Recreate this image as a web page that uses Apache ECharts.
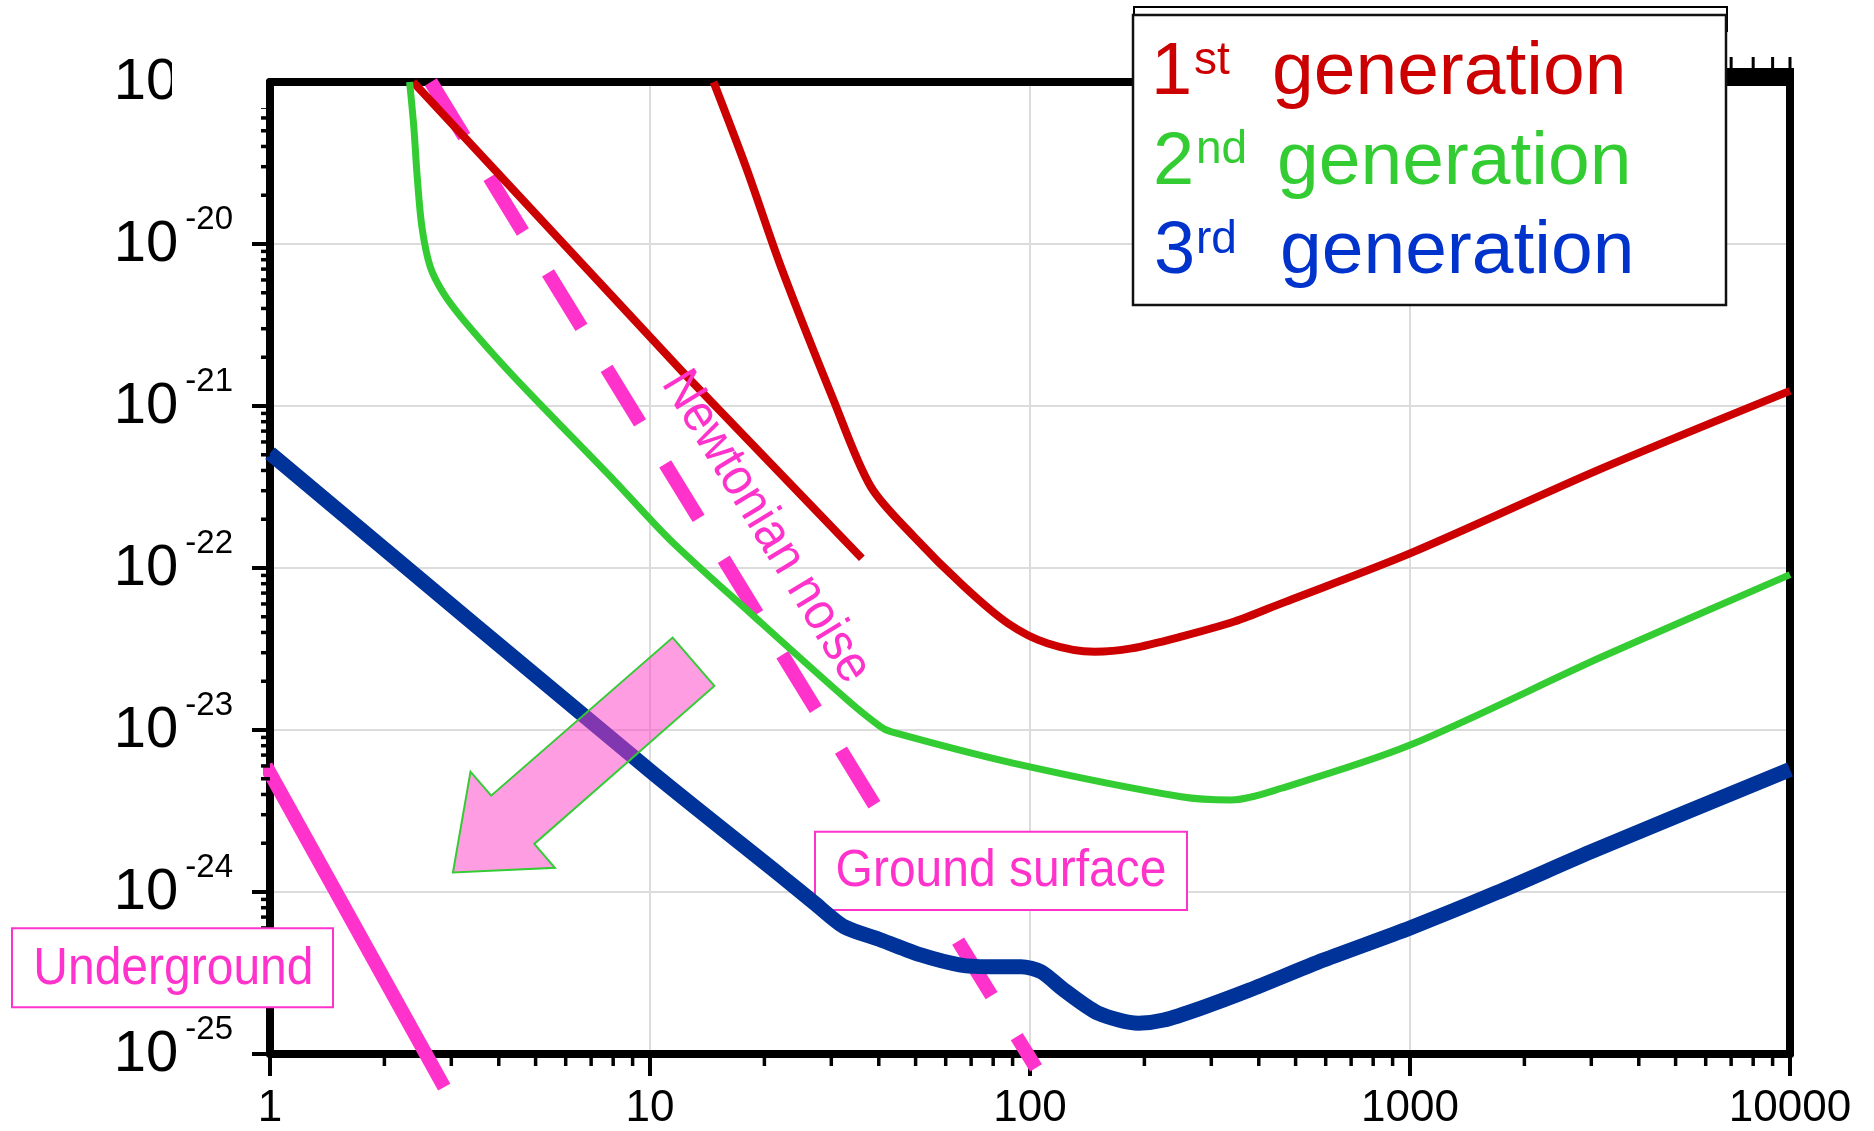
<!DOCTYPE html>
<html>
<head>
<meta charset="utf-8">
<title>Detector sensitivity by generation</title>
<script src="https://cdn.jsdelivr.net/npm/echarts@6/dist/echarts.min.js"></script>
<style>
  html, body { margin: 0; padding: 0; background: #ffffff; }
  #chart { width: 1874px; height: 1131px; }
</style>
</head>
<body>
<div id="chart"></div>
<script>
// ---- Axis ranges and tick labels ----
const freqTicks = [1, 10, 100, 1000, 10000];          // Hz
const strainExponents = [-25, -24, -23, -22, -21, -20, -19];
const topEdgeTicks = [7000, 8000, 9000, 10000];       // Hz, short ticks on the top edge

// ---- 1st generation: main sensitivity curve ----
const gen1Freq = [14.7, 18.0, 22.1, 30.4, 38.1, 49.5, 67.1, 87.4, 111, 148, 185, 250, 345, 459, 1000, 3200, 10000];
const gen1Strain = [1e-19, 2.87e-20, 7.25e-21, 1.09e-21, 3.18e-22, 1.56e-22, 7.67e-23, 4.56e-23, 3.43e-23, 3.04e-23, 3.19e-23, 3.77e-23, 4.67e-23, 6.05e-23, 1.23e-22, 4.12e-22, 1.24e-21];

// ---- 1st generation: low-frequency seismic branch ----
const gen1LowFreq = [2.38, 12.26, 36.1];
const gen1LowStrain = [1e-19, 1.60e-21, 1.15e-22];

// ---- 2nd generation ----
const gen2Freq = [2.33, 2.39, 2.44, 2.51, 2.64, 2.86, 3.23, 4.38, 8.03, 11.3, 18.4, 33.1, 40.4, 43.0, 90.2, 250, 339, 459, 1000, 3200, 10000];
const gen2Strain = [1e-19, 5.3e-20, 2.6e-20, 1.28e-20, 7.25e-21, 4.97e-21, 3.40e-21, 1.52e-21, 3.49e-22, 1.49e-22, 5.25e-23, 1.53e-23, 1.05e-23, 9.77e-24, 6.25e-24, 3.87e-24, 3.70e-24, 4.37e-24, 8.07e-24, 2.83e-23, 9.1e-23];

// ---- 3rd generation ----
const gen3Freq = [1, 10, 22.1, 27.0, 32.4, 40.5, 51.6, 65.8, 77.5, 94.7, 107, 123, 151, 193, 225, 282, 378, 592, 1000, 1690, 3075, 10000];
const gen3Strain = [5.1e-22, 5.6e-24, 1.26e-24, 8.6e-25, 6.11e-25, 5.06e-25, 4.09e-25, 3.54e-25, 3.46e-25, 3.46e-25, 3.22e-25, 2.48e-25, 1.79e-25, 1.55e-25, 1.62e-25, 1.92e-25, 2.48e-25, 3.8e-25, 6.0e-25, 9.9e-25, 1.82e-24, 5.7e-24];

// ---- Newtonian noise: ground surface (dashed) and underground ----
const nnSurfaceFreq = [2.65, 103.7];
const nnSurfaceStrain = [1e-19, 8.2e-26];
const nnUndergroundFreq = [0.976, 2.874];
const nnUndergroundStrain = [6.0e-24, 6.25e-26];

// ---- Arrow annotation outline, in (frequency, strain) ----
const arrowFreq = [3.03, 3.37, 3.82, 11.47, 14.77, 4.96, 5.62];
const arrowStrain = [1.32e-24, 5.53e-24, 3.93e-24, 3.72e-23, 1.87e-23, 1.98e-24, 1.41e-24];

const FONT = '"Liberation Sans", Arial, Helvetica, sans-serif';
const RED = '#cc0000', GREEN = '#33cc33', BLUE = '#003399', PINK = '#ff33cc';

// Both axes run in decades (log10 of the physical value), so the tiny
// strain values never hit floating-point rounding inside the scale.
const lg = Math.log10;
const X_MIN = lg(freqTicks[0]), X_MAX = lg(freqTicks[freqTicks.length - 1]);
const Y_MIN = strainExponents[0], Y_MAX = strainExponents[strainExponents.length - 1];

const toPoints = (fs, hs) => fs.map((f, i) => [lg(f), lg(hs[i])]);

// minor tick positions 2..9 x 10^k inside each decade
const minorX = [];
for (let e = X_MIN; e < X_MAX; e++) for (let k = 2; k <= 9; k++) minorX.push(e + lg(k));
const minorY = [];
for (let e = Y_MIN; e < Y_MAX; e++) for (let k = 2; k <= 9; k++) minorY.push(e + lg(k));

const chart = echarts.init(document.getElementById('chart'), null, { renderer: 'canvas' });

const curve = (name, data, color, width, extra) => Object.assign({
  name, type: 'line', data, symbol: 'none', smooth: 0.3, z: 2,
  lineStyle: { color, width, cap: 'butt', join: 'round' },
  silent: true
}, extra || {});

const textStyle = (text, size, fill, align) => ({
  text, fontFamily: FONT, fontSize: size, fill,
  align: align, verticalAlign: 'middle', textAlign: align, textVerticalAlign: 'middle'
});

// plain frame axis (top / right edges of the plot box)
const frameAxis = (position) => ({
  type: 'value', position, min: position === 'top' ? X_MIN : Y_MIN,
  max: position === 'top' ? X_MAX : Y_MAX, interval: 1,
  axisLine: { show: true, onZero: false, lineStyle: { color: '#000', width: 8 } },
  axisTick: { show: false }, axisLabel: { show: false }, splitLine: { show: false }
});

chart.setOption({
  animation: false,
  backgroundColor: '#ffffff',
  grid: { left: 270, top: 82, width: 1520, height: 972, show: false },
  xAxis: [{
    type: 'value', position: 'bottom', min: X_MIN, max: X_MAX, interval: 1,
    axisLine: { show: true, onZero: false, lineStyle: { color: '#000', width: 8 } },
    axisTick: { show: true, inside: false, length: 22, lineStyle: { color: '#000', width: 4 } },
    splitLine: { show: true, lineStyle: { color: '#dcdcdc', width: 2 } },
    axisLabel: {
      margin: 33, color: '#000', fontFamily: FONT, fontSize: 44, lineHeight: 44,
      formatter: v => String(Math.round(Math.pow(10, v)))
    }
  }, frameAxis('top')],
  yAxis: [{
    type: 'value', position: 'left', min: Y_MIN, max: Y_MAX, interval: 1,
    axisLine: { show: true, onZero: false, lineStyle: { color: '#000', width: 8 } },
    axisTick: { show: true, inside: false, length: 18, lineStyle: { color: '#000', width: 4 } },
    splitLine: { show: true, lineStyle: { color: '#dcdcdc', width: 2 } },
    axisLabel: {
      margin: 37, color: '#000', fontFamily: FONT, padding: [0, 0, 11, 0],
      formatter: v => '{b|10}{s|' + Math.round(v) + '}',
      rich: {
        b: { fontFamily: FONT, fontSize: 58, lineHeight: 58, verticalAlign: 'bottom', color: '#000' },
        s: { fontFamily: FONT, fontSize: 33, lineHeight: 71, verticalAlign: 'top', padding: [0, 0, 0, 7], color: '#000' }
      }
    }
  }, frameAxis('right')],
  series: [
    {
      name: 'Newtonian noise (ground surface)', type: 'line', symbol: 'none', clip: false, silent: true, z: 1,
      data: toPoints(nnSurfaceFreq, nnSurfaceStrain),
      lineStyle: { color: PINK, width: 14, type: [64, 48], cap: 'butt' }
    },
    curve('1st generation', toPoints(gen1Freq, gen1Strain), RED, 8),
    curve('1st generation (low frequency)', toPoints(gen1LowFreq, gen1LowStrain), RED, 8, { smooth: false }),
    curve('2nd generation', toPoints(gen2Freq, gen2Strain), GREEN, 7),
    curve('3rd generation', toPoints(gen3Freq, gen3Strain), BLUE, 15, { smooth: 0.25 }),
    {
      name: 'Newtonian noise (underground)', type: 'line', symbol: 'none', clip: false, silent: true, z: 2,
      data: toPoints(nnUndergroundFreq, nnUndergroundStrain),
      lineStyle: { color: PINK, width: 14, cap: 'butt' }
    },
    {
      name: 'arrow', type: 'custom', silent: true, clip: false, z: 3,
      data: [[lg(arrowFreq[0]), lg(arrowStrain[0])]],
      renderItem: (params, api) => ({
        type: 'polygon',
        shape: { points: arrowFreq.map((f, i) => api.coord([lg(f), lg(arrowStrain[i])])) },
        style: { fill: 'rgba(255,60,200,0.5)', stroke: GREEN, lineWidth: 2 }
      })
    },
    {
      name: 'x minor ticks', type: 'custom', silent: true, clip: false, z: 5,
      data: minorX.map(v => [v, Y_MIN]),
      renderItem: (params, api) => {
        const p = api.coord([api.value(0), api.value(1)]);
        return { type: 'line', shape: { x1: p[0], y1: p[1], x2: p[0], y2: p[1] + 12 },
                 style: { stroke: '#000', lineWidth: 3.5 } };
      }
    },
    {
      name: 'y minor ticks', type: 'custom', silent: true, clip: false, z: 5,
      data: minorY.map(v => [X_MIN, v]),
      renderItem: (params, api) => {
        const p = api.coord([api.value(0), api.value(1)]);
        return { type: 'line', shape: { x1: p[0] - 9, y1: p[1], x2: p[0], y2: p[1] },
                 style: { stroke: '#000', lineWidth: 3.5 } };
      }
    },
    {
      // short ticks and heavier edge on the top border beside the legend panel
      name: 'top edge ticks', type: 'custom', silent: true, clip: false, z: 6,
      data: topEdgeTicks.map(f => [lg(f), Y_MAX]),
      renderItem: (params, api) => {
        const p = api.coord([api.value(0), api.value(1)]);
        const children = [{ type: 'line', shape: { x1: p[0], y1: p[1] - 14, x2: p[0], y2: p[1] - 25 },
                            style: { stroke: '#000', lineWidth: 3 } }];
        if (params.dataIndex === 0) {
          const end = api.coord([X_MAX, Y_MAX]);
          children.push({ type: 'rect', shape: { x: p[0] - 30, y: p[1] - 14, width: end[0] - p[0] + 34, height: 14 },
                          style: { fill: '#000' } });
        }
        return { type: 'group', children };
      }
    }
  ],
  graphic: [
    // mask over the top strain label
    { type: 'rect', z: 100, shape: { x: 172, y: 36, width: 94, height: 72 }, style: { fill: '#fff' } },

    // legend panel
    { type: 'rect', z: 100, shape: { x: 1134, y: 7, width: 593, height: 24 },
      style: { fill: '#fff', stroke: '#000', lineWidth: 2 } },
    { type: 'rect', z: 101, shape: { x: 1133, y: 15, width: 593, height: 290 },
      style: { fill: '#fff', stroke: '#111', lineWidth: 2.5 } },
    { type: 'text', z: 102, x: 1151, y: 73.7, style: textStyle('1', 74, RED, 'left') },
    { type: 'text', z: 102, x: 1194, y: 61.4, style: textStyle('st', 46, RED, 'left') },
    { type: 'text', z: 102, x: 1272, y: 73.7, style: textStyle('generation', 75, RED, 'left') },
    { type: 'text', z: 102, x: 1153, y: 163.7, style: textStyle('2', 74, GREEN, 'left') },
    { type: 'text', z: 102, x: 1196, y: 150.8, style: textStyle('nd', 46, GREEN, 'left') },
    { type: 'text', z: 102, x: 1277, y: 163.7, style: textStyle('generation', 75, GREEN, 'left') },
    { type: 'text', z: 102, x: 1154, y: 252.7, style: textStyle('3', 74, '#0033cc', 'left') },
    { type: 'text', z: 102, x: 1196, y: 240.1, style: textStyle('rd', 46, '#0033cc', 'left') },
    { type: 'text', z: 102, x: 1280, y: 252.7, style: textStyle('generation', 75, '#0033cc', 'left') },

    // Newtonian noise caption along the dashed line
    { type: 'text', z: 10, x: 766, y: 527, rotation: -58.6 * Math.PI / 180, scaleY: 1.1,
      style: textStyle('Newtonian noise', 48, PINK, 'center') },

    // Ground surface box: above the dashed line, under the curves
    { type: 'rect', z: 1.5, shape: { x: 815, y: 831.7, width: 372, height: 78.3 },
      style: { fill: '#fff', stroke: PINK, lineWidth: 2 } },
    { type: 'text', z: 1.5, x: 1001, y: 872, scaleY: 1.08, style: textStyle('Ground surface', 48, PINK, 'center') },

    // Underground box (over the axis)
    { type: 'rect', z: 50, shape: { x: 12, y: 928.3, width: 321, height: 79 },
      style: { fill: '#fff', stroke: PINK, lineWidth: 2 } },
    { type: 'text', z: 51, x: 173.4, y: 970, scaleY: 1.08, style: textStyle('Underground', 48, PINK, 'center') }
  ]
});
</script>
</body>
</html>
